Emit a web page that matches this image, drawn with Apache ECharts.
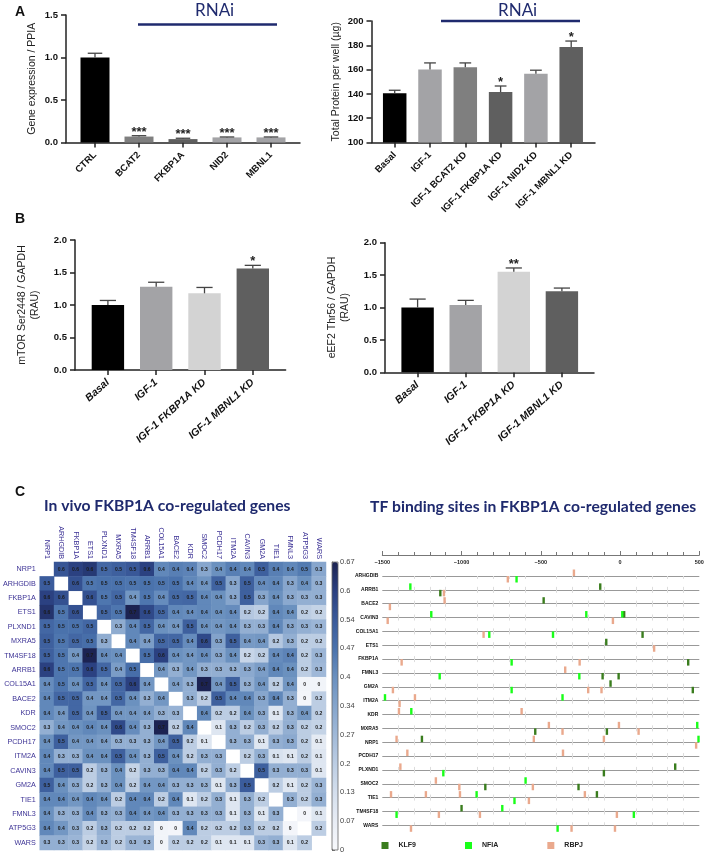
<!DOCTYPE html>
<html>
<head>
<meta charset="utf-8">
<title>FKBP1A</title>
<script src="https://cdn.jsdelivr.net/npm/echarts@6/dist/echarts.min.js"></script>
<style>
  html, body { margin: 0; padding: 0; background: #fff; }
  #main { width: 718px; height: 855px; }
</style>
</head>
<body>
<div id="main"></div>
<script>
// panel A / B bars
const geneCats = ['CTRL', 'BCAT2', 'FKBP1A', 'NID2', 'MBNL1'];
const geneVals = [1.0, 0.07, 0.04, 0.06, 0.06];
const geneTops = [1.05, 0.08, 0.05, 0.065, 0.065];
const geneStars = ['', '***', '***', '***', '***'];
const geneColors = ['#000000', '#7f7f7f', '#5f5f5f', '#a3a3a6', '#a3a3a6'];

const proteinCats = ['Basal', 'IGF-1', 'IGF-1 BCAT2 KD', 'IGF-1 FKBP1A KD', 'IGF-1 NID2 KD', 'IGF-1 MBNL1 KD'];
const proteinVals = [140.5, 160, 162, 141.5, 156.5, 178.5];
const proteinTops = [143, 165.5, 165.5, 146.5, 159.5, 183.5];
const proteinStars = ['', '', '', '*', '', '*'];
const proteinColors = ['#000000', '#a3a3a6', '#7f7f7f', '#5f5f5f', '#a3a3a6', '#5f5f5f'];

const kdCats = ['Basal', 'IGF-1', 'IGF-1 FKBP1A KD', 'IGF-1 MBNL1 KD'];
const mtorVals = [1.0, 1.28, 1.18, 1.56];
const mtorTops = [1.07, 1.35, 1.27, 1.61];
const mtorStars = ['', '', '', '*'];
const eef2Vals = [1.0, 1.04, 1.55, 1.25];
const eef2Tops = [1.13, 1.11, 1.61, 1.30];
const eef2Stars = ['', '', '**', ''];
const kdColors = ['#000000', '#a3a3a6', '#d3d3d3', '#5f5f5f'];

// panel C heatmap
const heatGenes = ['NRP1', 'ARHGDIB', 'FKBP1A', 'ETS1', 'PLXND1', 'MXRA5', 'TM4SF18', 'ARRB1', 'COL15A1', 'BACE2',
  'KDR', 'SMOC2', 'PCDH17', 'ITM2A', 'CAVIN3', 'GM2A', 'TIE1', 'FMNL3', 'ATP5G3', 'WARS'];
const heatRows = [
  [null, .55, .6, .62, .5, .52, .54, .6, .42, .44, .43, .33, .4, .44, .42, .52, .44, .42, .45, .33],
  [.53, null, .56, .46, .47, .47, .46, .47, .46, .47, .42, .39, .51, .33, .52, .41, .42, .33, .4, .3],
  [.6, .56, null, .56, .46, .5, .38, .46, .41, .49, .5, .42, .4, .33, .52, .33, .4, .32, .3, .3],
  [.63, .46, .56, null, .5, .46, .68, .58, .5, .42, .41, .42, .4, .41, .22, .2, .42, .4, .2, .18],
  [.5, .47, .47, .5, null, .31, .42, .5, .4, .38, .52, .4, .38, .4, .3, .3, .42, .33, .3, .28],
  [.52, .46, .5, .48, .31, null, .42, .36, .5, .5, .41, .58, .34, .52, .37, .38, .22, .3, .2, .2],
  [.52, .46, .38, .69, .41, .4, null, .48, .6, .4, .38, .41, .33, .4, .17, .2, .41, .43, .2, .28],
  [.6, .46, .46, .6, .5, .36, .48, null, .38, .3, .38, .3, .3, .3, .32, .36, .42, .4, .2, .27],
  [.41, .46, .4, .5, .4, .5, .6, .38, null, .36, .3, .68, .38, .52, .3, .38, .2, .38, .03, .03],
  [.42, .5, .5, .38, .38, .5, .4, .3, .38, null, .3, .2, .52, .42, .42, .33, .42, .3, .02, .2],
  [.42, .38, .5, .39, .52, .38, .38, .36, .3, .29, null, .42, .2, .2, .4, .32, .1, .3, .38, .2],
  [.3, .38, .4, .42, .4, .58, .41, .3, .68, .2, .42, null, .1, .3, .2, .3, .2, .3, .2, .18],
  [.4, .52, .38, .38, .36, .3, .3, .3, .38, .52, .2, .1, null, .3, .3, .1, .3, .32, .2, .08],
  [.42, .3, .3, .4, .4, .52, .4, .3, .52, .4, .2, .3, .3, null, .2, .3, .12, .1, .2, .1],
  [.42, .52, .52, .2, .3, .4, .18, .3, .3, .42, .42, .2, .3, .2, null, .52, .3, .3, .3, .1],
  [.52, .4, .32, .2, .3, .4, .2, .38, .38, .3, .3, .3, .1, .3, .53, null, .2, .1, .2, .28],
  [.42, .42, .38, .42, .4, .2, .42, .42, .2, .42, .1, .2, .3, .1, .3, .2, null, .3, .2, .3],
  [.4, .3, .3, .41, .32, .3, .42, .38, .4, .3, .3, .3, .3, .1, .3, .1, .3, null, .02, .1],
  [.42, .38, .3, .2, .3, .2, .2, .2, .03, .02, .42, .2, .2, .2, .3, .2, .2, .02, null, .2],
  [.3, .3, .28, .18, .28, .2, .28, .28, .03, .2, .2, .2, .1, .1, .1, .28, .3, .1, .2, null]
];
const heatColors = ['#f8f9fc', '#e8edf5', '#d4dfed', '#bccde3', '#a0b9d8', '#85a5cc', '#6a90bf', '#4a72ac', '#3a5a9a', '#2a4080', '#1c2352'];
const colorbarTicks = ['0', '0.07', '0.13', '0.2', '0.27', '0.34', '0.4', '0.47', '0.54', '0.6', '0.67'];

// panel C binding sites: [position, gene, strand]  strand 1 = above the line
const tfGenes = ['ARHGDIB', 'ARRB1', 'BACE2', 'CAVIN3', 'COL15A1', 'ETS1', 'FKBP1A', 'FMNL3', 'GM2A', 'ITM2A',
  'KDR', 'MXRA5', 'NRP1', 'PCDH17', 'PLXND1', 'SMOC2', 'TIE1', 'TM4SF18', 'WARS'];
const klf9Sites = [
  [-1134, 'ARRB1', 0], [-125, 'ARRB1', 1], [-482, 'BACE2', 1], [26, 'CAVIN3', 1], [142, 'COL15A1', 0],
  [-87, 'ETS1', 1], [430, 'FKBP1A', 0], [-110, 'FMNL3', 0], [-9, 'FMNL3', 0], [-60, 'GM2A', 1], [459, 'GM2A', 0],
  [-535, 'MXRA5', 0], [-83, 'MXRA5', 0], [-1250, 'NRP1', 1], [348, 'PLXND1', 1], [-102, 'PLXND1', 0],
  [-850, 'SMOC2', 0], [-262, 'SMOC2', 0], [-146, 'TIE1', 1], [-1000, 'TM4SF18', 1]
];
const nfiaSites = [
  [-653, 'ARHGDIB', 0], [-1323, 'ARRB1', 1], [-1191, 'CAVIN3', 1], [-213, 'CAVIN3', 1], [14, 'CAVIN3', 1],
  [-825, 'COL15A1', 0], [-423, 'COL15A1', 0], [-684, 'FKBP1A', 0], [-1138, 'FMNL3', 0], [-257, 'FMNL3', 0],
  [-684, 'GM2A', 0], [-1483, 'ITM2A', 1], [-363, 'ITM2A', 1], [-1317, 'KDR', 1], [487, 'MXRA5', 1], [495, 'NRP1', 1],
  [-1115, 'PLXND1', 0], [-596, 'SMOC2', 1], [-905, 'TIE1', 1], [-666, 'TIE1', 0], [-1410, 'TM4SF18', 0],
  [-743, 'TM4SF18', 1], [87, 'TM4SF18', 0], [-394, 'WARS', 0]
];
const rbpjSites = [
  [-708, 'ARHGDIB', 0], [-291, 'ARHGDIB', 1], [-1111, 'ARRB1', 0], [-1107, 'BACE2', 1], [-1452, 'BACE2', 0],
  [-1466, 'CAVIN3', 0], [-45, 'CAVIN3', 0], [-861, 'COL15A1', 0], [215, 'ETS1', 0], [-1378, 'FKBP1A', 0],
  [-255, 'FKBP1A', 0], [-346, 'FMNL3', 1], [-1433, 'GM2A', 0], [-201, 'GM2A', 0], [-117, 'GM2A', 0],
  [-1294, 'ITM2A', 1], [-1391, 'ITM2A', 0], [-1395, 'KDR', 1], [-621, 'KDR', 1], [-449, 'MXRA5', 1], [-363, 'MXRA5', 0],
  [-7, 'MXRA5', 1], [117, 'MXRA5', 0], [-1410, 'NRP1', 1], [-544, 'NRP1', 1], [-102, 'NRP1', 1], [480, 'NRP1', 0],
  [-1342, 'PCDH17', 1], [-360, 'PCDH17', 1], [-1386, 'PLXND1', 1], [-1162, 'SMOC2', 1], [-1014, 'SMOC2', 0],
  [-550, 'SMOC2', 0], [-1445, 'TIE1', 1], [-1225, 'TIE1', 1], [-1010, 'TIE1', 1], [-575, 'TIE1', 0], [-222, 'TIE1', 1],
  [-1143, 'TM4SF18', 0], [-884, 'TM4SF18', 0], [-20, 'TM4SF18', 0], [-1319, 'WARS', 0], [-306, 'WARS', 0], [-32, 'WARS', 0]
];

const sans = '"Liberation Sans", Arial, sans-serif';
const navy = '#1f2a6e';
const grids = [], xAxes = [], yAxes = [], series = [];

// outer grid holds the long axis lines, inner grid holds the bars (the first bar sits away from the y axis)
function addBarPanel(p) {
  let axisStyle = { lineStyle: { color: '#222', width: 1.5 } };
  let outer = grids.length;
  grids.push({ left: p.axisLeft, width: p.axisEnd - p.axisLeft, top: p.top, height: p.bottom - p.top });
  xAxes.push({ gridIndex: outer, type: 'value', min: 0, max: 1, axisLine: { show: true, ...axisStyle },
    axisTick: { show: false }, axisLabel: { show: false }, splitLine: { show: false } });
  yAxes.push({ gridIndex: outer, type: 'value', min: p.min, max: p.max, interval: p.step,
    name: p.name, nameLocation: 'middle', nameRotate: 90, nameGap: p.nameGap,
    nameTextStyle: { fontFamily: sans, fontSize: p.nameSize, color: '#222', lineHeight: p.nameSize + 3 },
    axisLine: { show: true, ...axisStyle }, axisTick: { show: true, length: 5, ...axisStyle },
    axisLabel: { fontFamily: sans, fontWeight: 'bold', fontSize: p.tickSize, color: '#111', margin: 8,
      formatter: v => p.step < 1 ? v.toFixed(1) : v },
    splitLine: { show: false } });

  let inner = grids.length;
  let band = p.spacing * p.cats.length;
  grids.push({ left: p.firstCenter - p.spacing / 2, width: band, top: p.top, height: p.bottom - p.top });
  xAxes.push({ gridIndex: inner, type: 'category', data: p.cats, axisLine: { show: false },
    axisTick: { show: true, alignWithLabel: true, length: 5, ...axisStyle },
    axisLabel: { interval: 0, rotate: p.rotate, fontFamily: sans, fontWeight: 'bold', fontStyle: p.italic ? 'italic' : 'normal',
      fontSize: p.labelSize, color: '#111', margin: 11 } });
  yAxes.push({ gridIndex: inner, type: 'value', min: p.min, max: p.max, show: false });

  series.push({ type: 'bar', xAxisIndex: inner, yAxisIndex: inner, barWidth: p.barWidth, silent: true,
    data: p.vals.map((v, i) => ({ value: v, itemStyle: { color: p.colors[i] } })) });
  series.push({ type: 'custom', xAxisIndex: inner, yAxisIndex: inner, silent: true, z: 3,
    data: p.vals.map((v, i) => [i, v, p.tops[i], p.stars[i]]),
    encode: { x: 0, y: [1, 2] },
    renderItem: function (params, api) {
      let base = api.coord([api.value(0), api.value(1)]);
      let top = api.coord([api.value(0), api.value(2)]);
      let cap = p.barWidth / 4;
      let style = { stroke: '#444', lineWidth: 1.3, fill: null };
      let kids = [
        { type: 'line', shape: { x1: base[0], y1: base[1], x2: top[0], y2: top[1] }, style: style },
        { type: 'line', shape: { x1: top[0] - cap, y1: top[1], x2: top[0] + cap, y2: top[1] }, style: style }
      ];
      let star = p.stars[params.dataIndex];
      if (star) {
        kids.push({ type: 'text', style: { text: star, x: top[0], y: top[1] + 3, align: 'center', verticalAlign: 'bottom',
          font: 'bold 13px ' + sans, fill: '#222' } });
      }
      return { type: 'group', children: kids };
    } });
}

addBarPanel({ cats: geneCats, vals: geneVals, tops: geneTops, stars: geneStars, colors: geneColors,
  axisLeft: 66, axisEnd: 300, top: 15, bottom: 142.5, firstCenter: 95, spacing: 44, barWidth: 29,
  min: 0, max: 1.5, step: 0.5, name: 'Gene expression / PPIA', nameGap: 27, nameSize: 10.5,
  tickSize: 9.5, labelSize: 9.5, rotate: 45, italic: false });
addBarPanel({ cats: proteinCats, vals: proteinVals, tops: proteinTops, stars: proteinStars, colors: proteinColors,
  axisLeft: 371.5, axisEnd: 595, top: 21, bottom: 142.5, firstCenter: 394.7, spacing: 35.3, barWidth: 23.5,
  min: 100, max: 200, step: 20, name: 'Total Protein per well (µg)', nameGap: 29, nameSize: 10.5,
  tickSize: 9.5, labelSize: 9.5, rotate: 45, italic: false });
addBarPanel({ cats: kdCats, vals: mtorVals, tops: mtorTops, stars: mtorStars, colors: kdColors,
  axisLeft: 75, axisEnd: 285.6, top: 240, bottom: 370, firstCenter: 107.9, spacing: 48.3, barWidth: 32.4,
  min: 0, max: 2, step: 0.5, name: 'mTOR Ser2448 / GAPDH\n(RAU)', nameGap: 33, nameSize: 10.5,
  tickSize: 9.5, labelSize: 10.5, rotate: 42, italic: true });
addBarPanel({ cats: kdCats, vals: eef2Vals, tops: eef2Tops, stars: eef2Stars, colors: kdColors,
  axisLeft: 385, axisEnd: 594, top: 242.7, bottom: 372.3, firstCenter: 417.6, spacing: 48.1, barWidth: 32.4,
  min: 0, max: 2, step: 0.5, name: 'eEF2 Thr56 / GAPDH\n(RAU)', nameGap: 33, nameSize: 10.5,
  tickSize: 9.5, labelSize: 10.5, rotate: 42, italic: true });

// heatmap
let heatIdx = grids.length;
grids.push({ left: 38, top: 562, width: 288, height: 288 });
xAxes.push({ gridIndex: heatIdx, type: 'category', data: heatGenes, position: 'top',
  axisLine: { show: false }, axisTick: { show: false }, splitLine: { show: false },
  axisLabel: { interval: 0, rotate: 90, fontFamily: sans, fontSize: 7.2, color: '#3c3295', margin: 3 } });
yAxes.push({ gridIndex: heatIdx, type: 'category', data: heatGenes, inverse: true,
  axisLine: { show: false }, axisTick: { show: false }, splitLine: { show: false },
  axisLabel: { interval: 0, fontFamily: sans, fontSize: 7.2, color: '#3c3295', margin: 4 } });
let heatData = [];
heatRows.forEach((row, r) => row.forEach((v, c) => { if (v !== null) heatData.push([c, r, v]); }));
let heatSeries = series.length;
series.push({ type: 'heatmap', xAxisIndex: heatIdx, yAxisIndex: heatIdx, data: heatData, silent: true,
  label: { show: true, fontFamily: sans, fontSize: 5, fontWeight: 'bold', color: '#1a1a1a',
    formatter: p => { let s = p.value[2].toFixed(1); return s === '0.0' ? '0' : s; } } });

// colour bar ticks sit on a thin grid over the visualMap strip
let barIdx = grids.length;
grids.push({ left: 332, top: 562, width: 6, height: 288, show: true, borderColor: '#666', borderWidth: 0.8, backgroundColor: 'transparent', z: 5 });
xAxes.push({ gridIndex: barIdx, type: 'value', show: false, min: 0, max: 1 });
yAxes.push({ gridIndex: barIdx, type: 'category', position: 'right', boundaryGap: false, data: colorbarTicks,
  axisLine: { show: true, lineStyle: { color: '#555', width: 0.8 } },
  axisTick: { show: true, interval: 0, length: 3, lineStyle: { color: '#555', width: 0.8 } },
  axisLabel: { interval: 0, fontFamily: sans, fontSize: 7.5, color: '#444', margin: 2 }, splitLine: { show: false } });

// binding sites
let tfIdx = grids.length;
grids.push({ left: 382.3, top: 576, width: 317, height: 249.3 });
xAxes.push({ gridIndex: tfIdx, type: 'value', position: 'top', offset: 21, min: -1500, max: 500, interval: 500, minorTick: { show: true, splitNumber: 5, length: 3, lineStyle: { color: '#777' } },
  axisLine: { show: true, lineStyle: { color: '#777', width: 1 } },
  axisTick: { show: true, length: 4, lineStyle: { color: '#777' } },
  axisLabel: { inside: true, margin: 4, showMinLabel: true, showMaxLabel: true, fontFamily: sans, fontWeight: 'bold', fontSize: 5.5, color: '#222',
    formatter: v => v < 0 ? '−' + Math.abs(v) : String(v) },
  splitLine: { show: false },
  minorSplitLine: { show: true, lineStyle: { color: '#ddd', type: [6, 7.85], dashOffset: 3 } } });
yAxes.push({ gridIndex: tfIdx, type: 'category', data: tfGenes, inverse: true, boundaryGap: false,
  axisLine: { show: false }, axisTick: { show: false },
  axisLabel: { interval: 0, fontFamily: sans, fontWeight: 'bold', fontSize: 5, color: '#111', margin: 4 },
  splitLine: { show: true, interval: 0, lineStyle: { color: '#999', width: 1 } } });

function addSites(name, color, sites) {
  series.push({ type: 'custom', name: name, xAxisIndex: tfIdx, yAxisIndex: tfIdx, silent: true, z: 3,
    itemStyle: { color: color }, data: sites, encode: { x: 0, y: 1 },
    renderItem: function (params, api) {
      let pt = api.coord([api.value(0), api.value(1)]);
      let up = api.value(2) === 1;
      return { type: 'rect', shape: { x: pt[0] - 1.2, y: up ? pt[1] - 6.5 : pt[1], width: 2.4, height: 6.5 },
        style: { fill: api.visual('color') } };
    } });
}
addSites('KLF9', '#3a7d1e', klf9Sites);
addSites('NFIA', '#19ff19', nfiaSites);
addSites('RBPJ', '#eaa98d', rbpjSites);

let myChart = echarts.init(document.getElementById('main'));
let titleFont = { fontFamily: 'Lato, sans-serif', fontWeight: 'bold', fontSize: 15.7, color: navy };
let letterFont = { fontFamily: sans, fontWeight: 'bold', fontSize: 14, color: '#111' };
let rnaiFont = { fontFamily: 'Lato, sans-serif', fontWeight: 'normal', fontSize: 17, color: navy };
let option = {
  animation: false,
  backgroundColor: '#fff',
  title: [
    { text: 'A', left: 15, top: 5, padding: 0, textStyle: letterFont },
    { text: 'B', left: 15, top: 212, padding: 0, textStyle: letterFont },
    { text: 'C', left: 15, top: 485, padding: 0, textStyle: letterFont },
    { text: 'RNAi', left: 195, top: 2, padding: 0, textStyle: rnaiFont },
    { text: 'RNAi', left: 498, top: 2, padding: 0, textStyle: rnaiFont },
    { text: 'In vivo FKBP1A co-regulated genes', left: 44, top: 498, padding: 0, textStyle: titleFont },
    { text: 'TF binding sites in FKBP1A co-regulated genes', left: 370, top: 499, padding: 0, textStyle: titleFont }
  ],
  graphic: [
    { type: 'line', shape: { x1: 138, y1: 24.5, x2: 277, y2: 24.5 }, style: { stroke: navy, lineWidth: 2.5 } },
    { type: 'line', shape: { x1: 441, y1: 21, x2: 580, y2: 21 }, style: { stroke: navy, lineWidth: 2.5 } }
  ],
  visualMap: { type: 'continuous', seriesIndex: heatSeries, min: 0, max: 0.67, left: 332, top: 562, padding: 0,
    itemWidth: 6, itemHeight: 288, showLabel: false, calculable: false, hoverLink: false, text: ['', ''],
    inRange: { color: heatColors } },
  legend: { data: ['KLF9', 'NFIA', 'RBPJ'], left: 381.5, top: 842, padding: 0, itemWidth: 7, itemHeight: 7, itemGap: 49,
    selectedMode: false, icon: 'rect',
    textStyle: { fontFamily: sans, fontWeight: 'bold', fontSize: 7, color: '#222', padding: [0, 0, 0, 5] } },
  grid: grids,
  xAxis: xAxes,
  yAxis: yAxes,
  series: series
};
option && myChart.setOption(option);
</script>
</body>
</html>
